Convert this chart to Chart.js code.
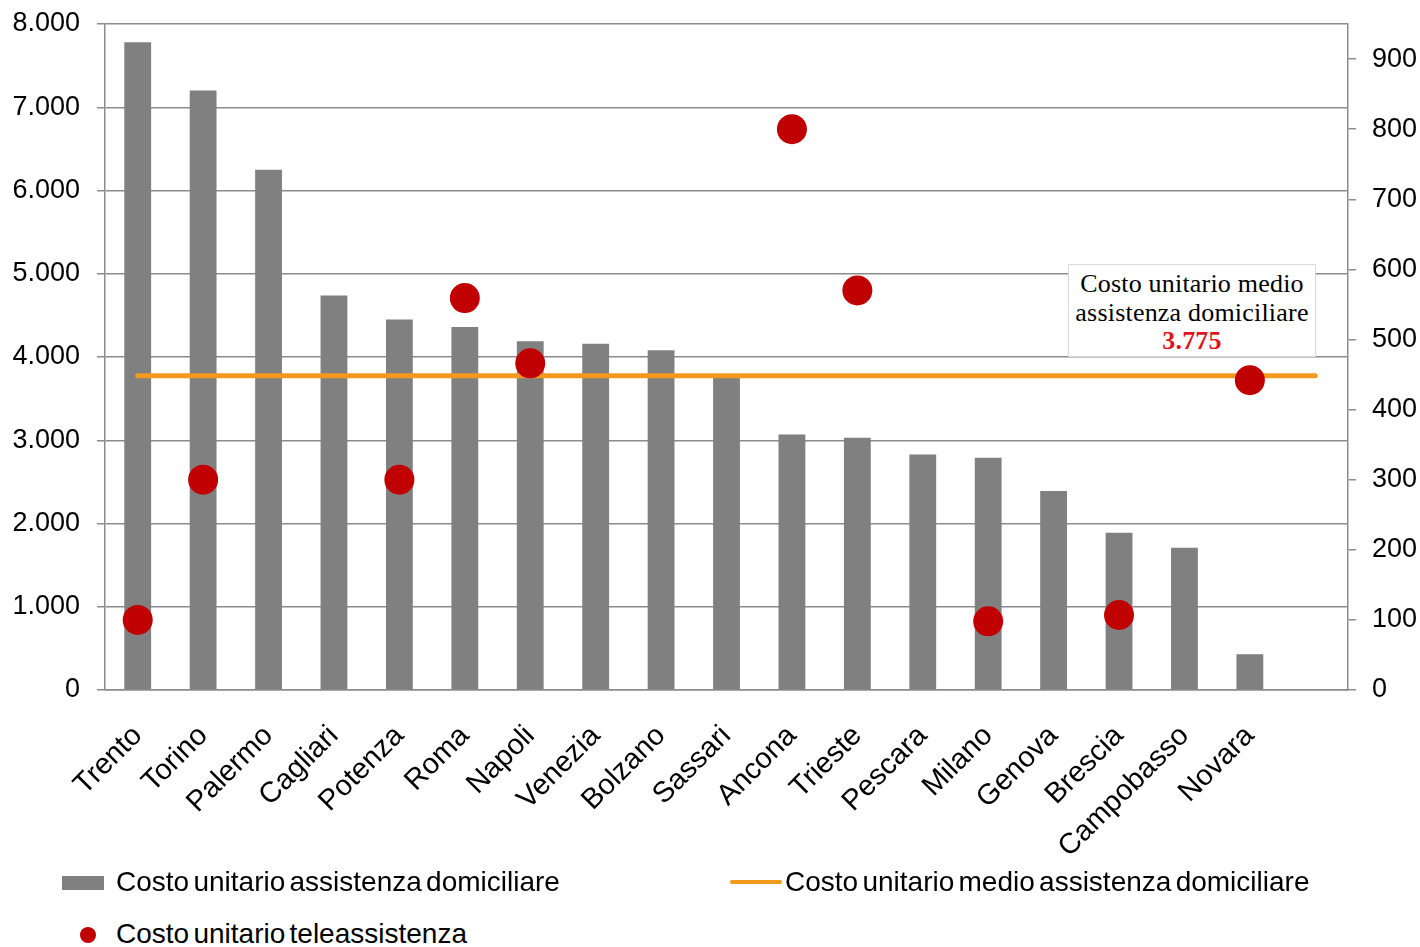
<!DOCTYPE html>
<html>
<head>
<meta charset="utf-8">
<script src="https://cdn.jsdelivr.net/npm/chart.js@4.4.1/dist/chart.umd.min.js"></script>
<style>
  body { margin: 0; background: #fff; font-family: "Liberation Sans", Arial, sans-serif; }
  #wrap { position: absolute; left: 0; top: 0; width: 1420px; height: 870px; }
  #note {
    position: absolute; left: 1068px; top: 264px; width: 248px; height: 93px;
    background: #fff; border: 1px solid #d9d9d9; box-sizing: border-box;
    font-family: "Liberation Serif", "Times New Roman", serif; font-size: 26px;
    letter-spacing: 0.2px; text-align: center; line-height: 28.5px; padding-top: 5px; color: #000;
    white-space: nowrap;
  }
  #note b { color: #e0141e; font-weight: bold; }
  .leg { position: absolute; font-size: 28px; color: #000; word-spacing: -3.5px; white-space: nowrap; }
  .sw { position: absolute; }
</style>
</head>
<body>
<div id="wrap"><canvas id="chart"></canvas></div>
<div id="note">Costo unitario medio<br>assistenza domiciliare<br><b>3.775</b></div>

<div class="sw" style="left:62px;top:876px;width:42px;height:14px;background:#808080"></div>
<div class="leg" style="left:116px;top:866px">Costo unitario assistenza domiciliare</div>
<div class="sw" style="left:730px;top:880px;width:52px;height:4px;background:#f39a1e;border-radius:2px"></div>
<div class="leg" style="left:785px;top:866px">Costo unitario medio assistenza domiciliare</div>
<div class="sw" style="left:80px;top:927px;width:16px;height:16px;background:#c00000;border-radius:50%"></div>
<div class="leg" style="left:116px;top:918px">Costo unitario teleassistenza</div>

<script>
// cities, last slot is empty (the average line runs into it)
const cities = ["Trento", "Torino", "Palermo", "Cagliari", "Potenza", "Roma", "Napoli",
  "Venezia", "Bolzano", "Sassari", "Ancona", "Trieste", "Pescara", "Milano", "Genova",
  "Brescia", "Campobasso", "Novara", ""];

// costo unitario assistenza domiciliare (left axis)
const homeCare = [7780, 7200, 6250, 4740, 4450, 4360, 4190, 4160, 4080, 3770,
  3070, 3030, 2830, 2790, 2390, 1890, 1710, 430, null];

// costo unitario teleassistenza (right axis)
const teleCare = [100, 300, null, null, 300, 559, 466, null, null, null,
  800, 570, null, 98, null, 107, null, 442, null];

// costo unitario medio assistenza domiciliare
const avgCost = 3775;

const leftTicks = [0, 1000, 2000, 3000, 4000, 5000, 6000, 7000, 8000];
const rightTicks = [0, 100, 200, 300, 400, 500, 600, 700, 800, 900];

const fmt = v => v.toLocaleString("it-IT");
const gridCol = "#8c8c8c";
const tickFont = { family: "Liberation Sans", size: 27 };

new Chart(document.getElementById("chart"), {
  data: {
    labels: cities,
    datasets: [
      {
        type: "line", label: "Costo unitario teleassistenza",
        data: teleCare, yAxisID: "y2", showLine: false,
        pointRadius: 15, pointHoverRadius: 15, pointBackgroundColor: "#c00000",
        pointBorderWidth: 0, order: 0
      },
      {
        type: "line", label: "Costo unitario medio assistenza domiciliare",
        data: cities.map(() => avgCost), yAxisID: "y",
        borderColor: "#f39a1e", borderWidth: 5, borderCapStyle: "round",
        pointRadius: 0, order: 1
      },
      {
        type: "bar", label: "Costo unitario assistenza domiciliare",
        data: homeCare, yAxisID: "y", backgroundColor: "#808080",
        barPercentage: 0.41, categoryPercentage: 1, order: 2
      }
    ]
  },
  options: {
    responsive: true, maintainAspectRatio: false, animation: false,
    layout: { padding: 0 },
    plugins: { legend: { display: false }, tooltip: { enabled: false } },
    scales: {
      x: {
        grid: { display: false, drawTicks: false },
        border: { color: gridCol, width: 1.5 },
        ticks: { color: "#000", font: { family: "Liberation Sans", size: 29 }, maxRotation: 45, minRotation: 45, padding: 29, autoSkip: false },
        afterFit: s => { s.height = 180; }
      },
      y: {
        position: "left", min: 0, max: 8000,
        afterBuildTicks: s => { s.ticks = leftTicks.map(v => ({ value: v })); },
        grid: { color: gridCol, lineWidth: 1.5, tickLength: 8 },
        border: { color: gridCol, width: 1.5 },
        ticks: { color: "#000", font: tickFont, padding: 17, callback: v => fmt(v) },
        afterFit: s => { s.width = 105; s.paddingTop = 24; s.paddingBottom = 0; }
      },
      y2: {
        position: "right", min: 0, max: 950,
        afterBuildTicks: s => { s.ticks = rightTicks.map(v => ({ value: v })); },
        ticks: { color: "#000", font: tickFont, padding: 16 },
        grid: { drawOnChartArea: false, color: gridCol, lineWidth: 1.5, tickLength: 8 },
        border: { color: gridCol, width: 1.5 },
        afterFit: s => { s.width = 72; s.paddingTop = 24; s.paddingBottom = 0; }
      }
    }
  }
});
</script>
</body>
</html>
